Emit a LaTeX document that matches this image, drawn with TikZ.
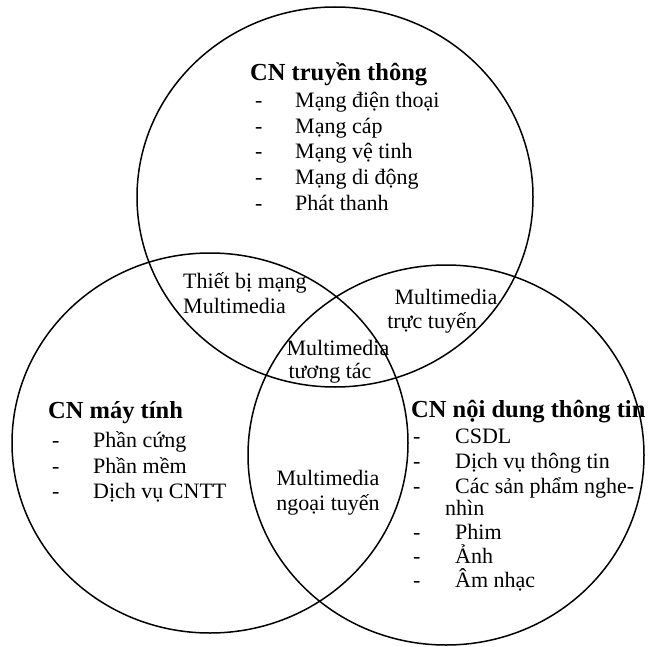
\documentclass[tikz,border=0pt]{standalone}
\usepackage{fontspec}
\setmainfont{Liberation Serif}
\begin{document}
\begin{tikzpicture}[x=1pt,y=-1pt,
  setring/.style={draw=black,line width=1.5pt},
  ttl/.style={anchor=base west,inner sep=0pt,font=\fontsize{24.5}{28}\selectfont\bfseries},
  itm/.style={anchor=base west,inner sep=0pt,font=\fontsize{22}{26}\selectfont},
  lbl/.style={anchor=base,inner sep=0pt,font=\fontsize{22}{26}\selectfont},
  lbll/.style={anchor=base west,inner sep=0pt,font=\fontsize{22}{26}\selectfont}]
\useasboundingbox (0,0) rectangle (650,647);
\fill[white] (0,0) rectangle (650,647);
% circles
\draw[setring] (335,197) ellipse [x radius=198pt, y radius=190pt];
\draw[setring] (210,443) ellipse [x radius=198pt, y radius=190pt];
\draw[setring] (446,455) ellipse [x radius=198pt, y radius=190pt];
% top set
\node[ttl] (tt) at (250,81) {CN truyền thông};
\node[itm] (t1) at (255,108) {\makebox[40pt][l]{-}Mạng điện thoại};
\node[itm] (t2) at (255,133.5) {\makebox[40pt][l]{-}Mạng cáp};
\node[itm] (t3) at (255,159) {\makebox[40pt][l]{-}Mạng vệ tinh};
\node[itm] (t4) at (255,184.5) {\makebox[40pt][l]{-}Mạng di động};
\node[itm] (t5) at (255,210) {\makebox[40pt][l]{-}Phát thanh};
% left set
\node[ttl] (lt) at (48,418) {CN máy tính};
\node[itm] (l1) at (52,447) {\makebox[41pt][l]{-}Phần cứng};
\node[itm] (l2) at (52,473) {\makebox[41pt][l]{-}Phần mềm};
\node[itm] (l3) at (52,498) {\makebox[41pt][l]{-}Dịch vụ CNTT};
% right set
\node[ttl] (rt) at (411,417) {CN nội dung thông tin};
\node[itm] (r1) at (413,443) {\makebox[42pt][l]{-}CSDL};
\node[itm] (r2) at (413,468) {\makebox[42pt][l]{-}Dịch vụ thông tin};
\node[itm] (r3) at (413,493) {\makebox[42pt][l]{-}Các sản phẩm nghe-};
\node[itm] (r3b) at (445,515) {nhìn};
\node[itm] (r4) at (413,539) {\makebox[42pt][l]{-}Phim};
\node[itm] (r5) at (413,563) {\makebox[42pt][l]{-}Ảnh};
\node[itm] (r6) at (413,587) {\makebox[42pt][l]{-}Âm nhạc};
% intersections
\node[lbll] (a1) at (183,288) {Thiết bị mạng};
\node[lbll] (a2) at (183,313) {Multimedia};
\node[lbl] (b1) at (446,304) {Multimedia};
\node[lbl] (b2) at (432,328) {trực tuyến};
\node[lbl] (c1) at (338,355) {Multimedia};
\node[lbl] (c2) at (330,378) {tương tác};
\node[lbl] (d1) at (328,485) {Multimedia};
\node[lbl] (d2) at (328,510) {ngoại tuyến};
\end{tikzpicture}
\end{document}
